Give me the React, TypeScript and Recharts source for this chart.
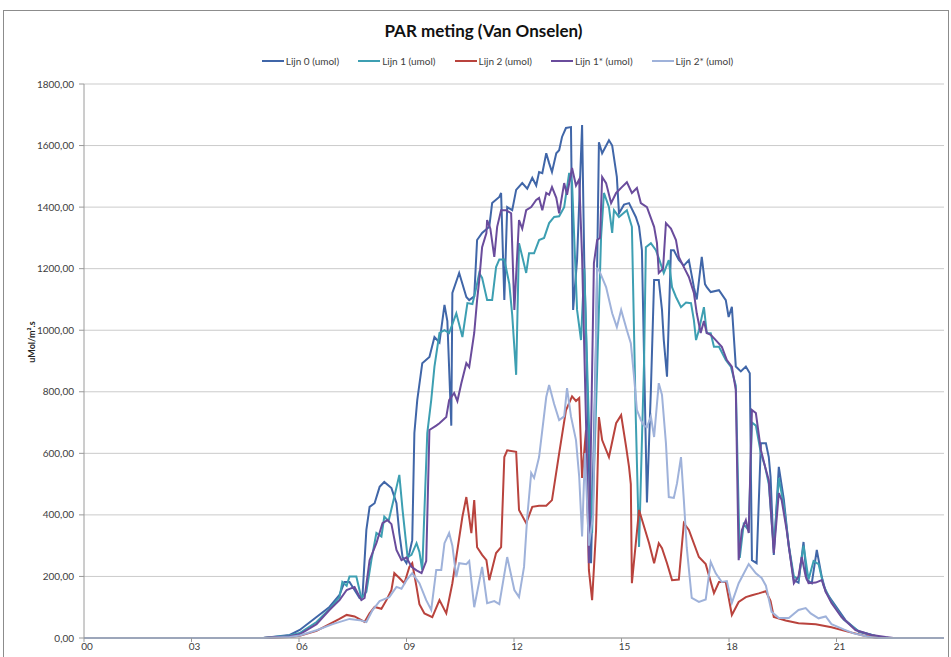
import { LineChart, Line, XAxis, YAxis, CartesianGrid } from 'recharts';

const lijn0: [number, number][] = [
  [0, 0], [5.0, 0], [5.74, 10], [6.02, 26], [6.49, 68], [6.85, 101], [7.13, 140], [7.27, 182], [7.41, 182],
  [7.55, 156], [7.69, 130], [7.77, 133], [7.88, 351], [7.97, 426], [8.11, 438], [8.25, 491], [8.38, 507],
  [8.58, 487], [8.72, 438], [8.8, 341], [8.89, 263], [9.0, 243], [9.08, 276], [9.16, 318], [9.22, 666],
  [9.3, 773], [9.44, 893], [9.64, 913], [9.78, 978], [9.92, 960], [10.06, 1082], [10.14, 1030], [10.25, 690],
  [10.28, 1121], [10.47, 1186], [10.67, 1108], [10.75, 1098], [10.89, 1110], [10.97, 1293], [11.11, 1316],
  [11.31, 1336], [11.39, 1413], [11.59, 1433], [11.64, 1446], [11.73, 1098], [11.81, 1400], [11.95, 1390],
  [12.06, 1456], [12.23, 1478], [12.37, 1460], [12.51, 1495], [12.62, 1470], [12.7, 1514], [12.79, 1510],
  [12.9, 1575], [12.98, 1543], [13.06, 1514], [13.18, 1575], [13.26, 1585], [13.34, 1628], [13.45, 1657],
  [13.59, 1660], [13.65, 1066], [13.76, 1228], [13.9, 1667], [13.96, 1228], [14.01, 991], [14.15, 243],
  [14.29, 958], [14.37, 1611], [14.46, 1575], [14.65, 1617], [14.74, 1600], [14.87, 1498], [14.93, 1380],
  [15.07, 1408], [15.21, 1413], [15.4, 1368], [15.49, 1336], [15.57, 1260], [15.71, 440], [15.82, 806],
  [15.91, 1163], [16.04, 1163], [16.13, 1066], [16.18, 968], [16.27, 849], [16.38, 1260], [16.46, 1260],
  [16.6, 1228], [16.74, 1210], [16.88, 1228], [17.02, 1140], [17.1, 1100], [17.24, 1238], [17.33, 1150],
  [17.38, 1140], [17.49, 1124], [17.72, 1130], [17.91, 1098], [17.99, 1043], [18.08, 1076], [18.19, 882],
  [18.33, 866], [18.47, 882], [18.58, 860], [18.64, 253], [18.77, 243], [18.89, 633], [19.03, 633],
  [19.11, 588], [19.16, 523], [19.25, 270], [19.39, 556], [19.53, 450], [19.67, 295], [19.81, 188],
  [19.94, 180], [20.08, 312], [20.17, 190], [20.31, 178], [20.45, 286], [20.59, 198], [20.7, 150],
  [20.86, 123], [21.25, 58], [21.62, 20], [22.17, 4], [22.45, 0], [24, 0],
];

const lijn1: [number, number][] = [
  [0, 0], [5.0, 0], [5.74, 8], [6.02, 16], [6.49, 52], [6.85, 94], [7.13, 133], [7.21, 182], [7.33, 170],
  [7.41, 200], [7.6, 200], [7.74, 130], [7.88, 150], [8.02, 253], [8.16, 341], [8.3, 330], [8.38, 394],
  [8.5, 380], [8.66, 459], [8.8, 530], [8.89, 416], [9.03, 263], [9.14, 270], [9.28, 308], [9.36, 280],
  [9.44, 221], [9.58, 666], [9.69, 773], [9.78, 882], [9.92, 991], [10.06, 1000], [10.19, 991],
  [10.39, 1055], [10.56, 978], [10.7, 1088], [10.84, 1085], [10.95, 1140], [11.03, 1186], [11.11, 1170],
  [11.25, 1098], [11.39, 1098], [11.5, 1205], [11.59, 1230], [11.73, 1230], [11.87, 1150], [11.95, 1050],
  [12.06, 855], [12.14, 1283], [12.34, 1186], [12.42, 1250], [12.56, 1250], [12.7, 1293], [12.84, 1300],
  [12.98, 1348], [13.12, 1368], [13.26, 1370], [13.4, 1400], [13.54, 1511], [13.62, 1480], [13.76, 1066],
  [13.87, 968], [13.96, 1200], [14.09, 700], [14.18, 341], [14.32, 870], [14.43, 1303], [14.51, 1446],
  [14.65, 1400], [14.74, 1316], [14.79, 1390], [14.93, 1368], [15.15, 1390], [15.29, 1336], [15.4, 708],
  [15.49, 296], [15.63, 900], [15.68, 1270], [15.82, 1283], [15.96, 1260], [16.04, 1234], [16.18, 1186],
  [16.32, 1228], [16.41, 1140], [16.52, 1108], [16.66, 1075], [16.8, 1090], [16.94, 1088], [17.02, 1033],
  [17.08, 968], [17.16, 1000], [17.3, 1075], [17.38, 991], [17.49, 990], [17.58, 946], [17.72, 946],
  [17.91, 903], [18.05, 882], [18.19, 820], [18.3, 260], [18.41, 370], [18.55, 350], [18.64, 700],
  [18.75, 690], [18.89, 600], [19.0, 560], [19.11, 500], [19.25, 290], [19.39, 520], [19.53, 430],
  [19.67, 300], [19.81, 200], [19.94, 190], [20.08, 300], [20.22, 190], [20.36, 250], [20.5, 240],
  [20.64, 170], [20.86, 118], [21.2, 60], [21.62, 22], [22.17, 4], [22.45, 0], [24, 0],
];

const lijn2: [number, number][] = [
  [0, 0], [5.0, 0], [5.74, 3], [6.02, 7], [6.49, 23], [6.85, 45], [7.13, 62], [7.33, 75], [7.55, 70],
  [7.83, 52], [7.97, 80], [8.11, 101], [8.3, 95], [8.44, 123], [8.58, 156], [8.66, 211], [8.8, 195],
  [8.94, 178], [9.08, 231], [9.16, 243], [9.28, 166], [9.36, 110], [9.5, 80], [9.72, 68], [9.92, 123],
  [10.11, 80], [10.28, 178], [10.39, 263], [10.56, 394], [10.67, 458], [10.81, 341], [10.89, 448],
  [10.97, 295], [11.11, 270], [11.23, 253], [11.31, 188], [11.5, 276], [11.64, 295], [11.73, 588],
  [11.81, 610], [12.06, 605], [12.14, 416], [12.34, 373], [12.51, 426], [12.7, 430], [12.9, 430],
  [13.06, 448], [13.26, 600], [13.45, 740], [13.62, 785], [13.73, 770], [13.82, 780], [13.9, 520],
  [14.01, 676], [14.09, 221], [14.18, 123], [14.29, 350], [14.37, 718], [14.46, 643], [14.65, 588],
  [14.85, 698], [14.99, 724], [15.13, 620], [15.21, 556], [15.26, 500], [15.29, 178], [15.49, 416],
  [15.77, 308], [15.91, 243], [16.04, 308], [16.13, 292], [16.27, 243], [16.41, 188], [16.6, 190],
  [16.74, 373], [16.88, 351], [17.16, 263], [17.35, 240], [17.58, 146], [17.72, 182], [17.91, 182],
  [18.08, 75], [18.27, 117], [18.47, 133], [18.64, 139], [18.83, 145], [19.03, 152], [19.16, 120],
  [19.25, 68], [19.58, 57], [19.94, 48], [20.42, 45], [20.86, 35], [21.34, 20], [21.75, 8], [22.17, 0],
  [24, 0],
];

const lijn1ster: [number, number][] = [
  [0, 0], [5.0, 0], [5.74, 6], [6.02, 12], [6.49, 45], [6.85, 91], [7.13, 123], [7.33, 156], [7.55, 166],
  [7.74, 123], [7.83, 130], [7.97, 253], [8.16, 308], [8.33, 373], [8.47, 383], [8.58, 370], [8.72, 286],
  [8.86, 253], [9.0, 262], [9.14, 231], [9.28, 220], [9.42, 211], [9.55, 250], [9.64, 676], [9.83, 690],
  [9.92, 698], [10.11, 718], [10.19, 773], [10.33, 796], [10.42, 770], [10.53, 828], [10.67, 893],
  [10.75, 880], [10.89, 991], [10.97, 1098], [11.03, 1163], [11.11, 1270], [11.23, 1316], [11.25, 1358],
  [11.34, 1330], [11.45, 1238], [11.53, 1336], [11.64, 1390], [11.78, 1390], [11.92, 1380], [12.01, 1066],
  [12.14, 1358], [12.23, 1330], [12.34, 1390], [12.48, 1400], [12.62, 1423], [12.7, 1430], [12.79, 1390],
  [12.9, 1446], [12.98, 1440], [13.06, 1465], [13.18, 1430], [13.26, 1380], [13.4, 1478], [13.48, 1440],
  [13.62, 1527], [13.73, 1470], [13.82, 1490], [13.9, 1238], [14.01, 700], [14.09, 243], [14.23, 1218],
  [14.32, 1293], [14.4, 1300], [14.46, 1498], [14.57, 1478], [14.71, 1413], [14.85, 1446], [15.01, 1465],
  [15.15, 1481], [15.29, 1446], [15.43, 1462], [15.54, 1413], [15.71, 1400], [15.91, 1336], [15.99, 1283],
  [16.04, 1186], [16.16, 1200], [16.24, 1348], [16.38, 1330], [16.52, 1293], [16.6, 1238], [16.74, 1205],
  [16.88, 1173], [17.02, 1121], [17.1, 1055], [17.21, 991], [17.3, 1030], [17.38, 991], [17.49, 985],
  [17.63, 968], [17.8, 946], [17.94, 903], [18.08, 882], [18.19, 806], [18.27, 253], [18.36, 351],
  [18.47, 383], [18.55, 341], [18.64, 741], [18.75, 731], [18.89, 611], [19.0, 560], [19.11, 513],
  [19.25, 276], [19.39, 471], [19.47, 448], [19.61, 350], [19.81, 178], [19.94, 200], [20.03, 263],
  [20.14, 200], [20.22, 178], [20.42, 180], [20.59, 188], [20.7, 150], [20.86, 114], [21.14, 68],
  [21.53, 26], [21.98, 10], [22.37, 3], [22.59, 0], [24, 0],
];

const lijn2ster: [number, number][] = [
  [0, 0], [5.0, 0], [5.74, 3], [6.02, 8], [6.49, 25], [6.94, 45], [7.41, 62], [7.69, 58], [7.88, 52],
  [8.05, 90], [8.25, 120], [8.52, 133], [8.72, 166], [8.86, 160], [9.0, 188], [9.16, 211], [9.36, 178],
  [9.55, 123], [9.69, 91], [9.83, 221], [9.97, 221], [10.06, 308], [10.19, 341], [10.28, 300], [10.39, 198],
  [10.47, 243], [10.67, 240], [10.75, 250], [10.89, 100], [11.11, 231], [11.25, 113], [11.45, 120],
  [11.59, 110], [11.81, 263], [12.01, 156], [12.14, 133], [12.28, 231], [12.37, 394], [12.48, 536],
  [12.56, 520], [12.7, 588], [12.9, 783], [12.98, 822], [13.12, 760], [13.26, 708], [13.4, 720],
  [13.48, 812], [13.59, 720], [13.73, 643], [13.82, 523], [13.9, 330], [13.98, 600], [14.09, 300],
  [14.21, 400], [14.32, 1200], [14.37, 1196], [14.57, 1140], [14.74, 1055], [14.87, 1010], [14.99, 1066],
  [15.15, 1000], [15.26, 958], [15.35, 849], [15.43, 741], [15.54, 708], [15.63, 690], [15.71, 685],
  [15.82, 720], [15.91, 653], [16.04, 828], [16.13, 790], [16.24, 633], [16.32, 458], [16.46, 455],
  [16.55, 503], [16.66, 588], [16.74, 448], [16.82, 295], [16.96, 130], [17.16, 117], [17.35, 125],
  [17.49, 247], [17.63, 210], [17.8, 182], [17.94, 185], [18.08, 114], [18.27, 178], [18.55, 240],
  [18.75, 210], [18.91, 195], [19.03, 170], [19.19, 85], [19.39, 65], [19.67, 65], [19.94, 91],
  [20.14, 97], [20.28, 80], [20.5, 64], [20.7, 70], [20.86, 45], [21.2, 28], [21.48, 15], [21.89, 4],
  [22.17, 0], [24, 0],
];

const seriesNames = ['Lijn 0 (umol)', 'Lijn 1 (umol)', 'Lijn 2 (umol)', 'Lijn 1* (umol)', 'Lijn 2* (umol)'];
const seriesColors = ['#4066a8', '#3d9fb2', '#b9433d', '#6a4c9c', '#9fb2da'];
const seriesData = [lijn0, lijn1, lijn2, lijn1ster, lijn2ster];

const hourTicks = [0, 3, 6, 9, 12, 15, 18, 21];
const valueTicks = [0, 200, 400, 600, 800, 1000, 1200, 1400, 1600, 1800];

const FONT = 'Lato, "Open Sans", sans-serif';

const toRows = (pts: [number, number][]) => pts.map(([h, v]) => ({ h, v }));

export default function App() {
  return (
    <div style={{ position: 'absolute', left: 0, top: 0, width: 951, height: 657, background: '#fff', overflow: 'hidden', fontFamily: FONT }}>
      <div style={{ position: 'absolute', left: 3, top: 10, width: 944, height: 660, border: '1px solid #8c8c8c' }} />
      <div style={{ position: 'absolute', left: 8, width: 951, top: 20, textAlign: 'center', fontSize: 17, fontWeight: 700, color: '#111' }}>
        PAR meting (Van Onselen)
      </div>
      <div style={{ position: 'absolute', left: 22, width: 951, top: 55, display: 'flex', justifyContent: 'center', gap: 19, fontSize: 10, color: '#404040' }}>
        {seriesNames.map((name, i) => (
          <div key={name} style={{ display: 'flex', alignItems: 'center' }}>
            <span style={{ display: 'inline-block', width: 22, height: 2, background: seriesColors[i], marginRight: 2 }} />
            <span>{name}</span>
          </div>
        ))}
      </div>
      <div style={{ position: 'absolute', left: 31, top: 342, transform: 'translate(-50%, -50%) rotate(-90deg)', fontSize: 9, fontWeight: 700, color: '#222', whiteSpace: 'nowrap' }}>
        uMol/m².s
      </div>
      <LineChart width={951} height={657} margin={{ top: 84, right: 7, left: 0, bottom: 0 }}>
        <CartesianGrid vertical={false} stroke="#cbcbcb" />
        <XAxis
          type="number"
          dataKey="h"
          domain={[0, 24]}
          ticks={hourTicks}
          allowDataOverflow
          height={19}
          tickSize={4}
          tickMargin={1}
          stroke="#9a9a9a"
          tick={{ fill: '#404040', fontSize: 10, fontFamily: FONT, dx: 3 }}
          tickFormatter={(h: number) => String(h).padStart(2, '0')}
        />
        <YAxis
          type="number"
          domain={[0, 1800]}
          ticks={valueTicks}
          width={84}
          tickSize={5}
          tickMargin={5}
          stroke="#9a9a9a"
          tick={{ fill: '#404040', fontSize: 10, fontFamily: FONT }}
          tickFormatter={(v: number) => v.toFixed(2).replace('.', ',')}
        />
        {seriesData.map((pts, i) => (
          <Line
            key={seriesNames[i]}
            data={toRows(pts)}
            dataKey="v"
            name={seriesNames[i]}
            type="linear"
            stroke={seriesColors[i]}
            strokeWidth={2}
            dot={false}
            isAnimationActive={false}
          />
        ))}
      </LineChart>
    </div>
  );
}
